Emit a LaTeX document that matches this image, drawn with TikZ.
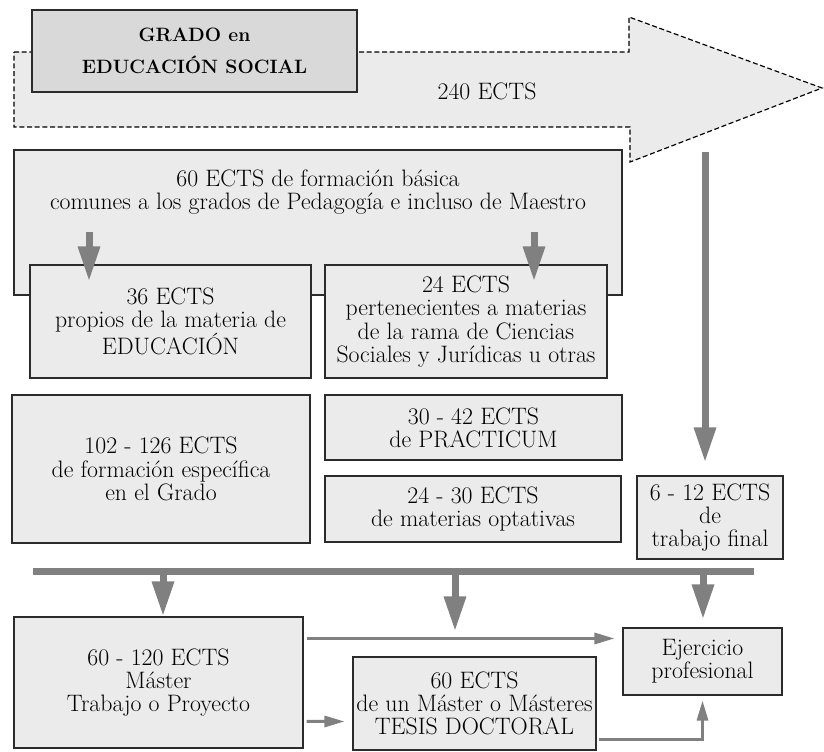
\documentclass[tikz,border=0pt]{standalone}
\usepackage{fontspec}
\setmainfont{Latin Modern Roman}
\usetikzlibrary{arrows.meta,calc}

\definecolor{cajafondo}{HTML}{EBEBEB}
\definecolor{gradofondo}{HTML}{D9D9D9}
\definecolor{flecha}{HTML}{808080}
\definecolor{borde}{HTML}{2B2B2B}

\tikzset{
  caja/.style={draw=borde, line width=0.9pt, fill=cajafondo, align=center, inner sep=0pt,
    font=\fontsize{20.3}{19.8}\selectfont},
  texto/.style={align=center, inner sep=0pt, font=\fontsize{20.3}{19.8}\selectfont},
  gruesa/.style={draw=flecha, line width=0.21cm, -{Triangle[width=0.62cm,length=1.05cm]}},
  fina/.style={draw=flecha, line width=0.09cm, -{Triangle[width=0.33cm,length=0.6cm]}},
}

\begin{document}
\begin{tikzpicture}[x=0.03cm, y=-0.03cm]
        \useasboundingbox (0,0) rectangle (824,751);

        % flecha grande de 240 ECTS
        \draw[fill=cajafondo, draw=black, line width=1pt, dash pattern=on 0.15cm off 0.08cm]
            (14,52) -- (629,52) -- (629,17) -- (822,88) -- (630,162) -- (630,127) -- (14,127) -- cycle;
        \node[texto] (total) at (487,91) {240 ECTS};
        \node[caja, fill=gradofondo, minimum width=9.75cm, minimum height=2.46cm,
            font=\fontsize{16.5}{27}\selectfont\bfseries] (grado) at (194.5,51) {GRADO en\\EDUCACIÓN SOCIAL};

        % formacion basica
        \node[caja, minimum width=18.24cm, minimum height=4.35cm] (basica) at (318,222.5) {};
        \node[texto] (basicatxt) at (318,192) {60 ECTS de formación básica\\comunes a los grados de Pedagogía e incluso de Maestro};
        \node[caja, minimum width=8.43cm, minimum height=3.39cm] (edu) at (170.5,321.5)
            {36 ECTS\\propios de la materia de\\EDUCACIÓN};
        \node[caja, minimum width=8.46cm, minimum height=3.39cm] (rama) at (466,321.5)
            {24 ECTS\\pertenecientes a materias\\de la rama de Ciencias\\Sociales y Jurídicas u otras};
        \coordinate (fIzq) at (89,232);
        \coordinate (fDer) at (534,232);
        \draw[gruesa] (fIzq) -- ($(fIzq |- edu.north)+(0,17)$);
        \draw[gruesa] (fDer) -- ($(fDer |- rama.north)+(0,17)$);

        % formacion especifica
        \node[caja, minimum width=8.94cm, minimum height=4.44cm] (espec) at (161,469)
            {102 - 126 ECTS\\de formación específica\\en el Grado};
        \node[caja, minimum width=8.91cm, minimum height=1.95cm] (practicum) at (473.5,427.5)
            {30 - 42 ECTS\\de PRACTICUM};
        \node[caja, minimum width=8.88cm, minimum height=1.98cm] (optativas) at (473,509)
            {24 - 30 ECTS\\de materias optativas};
        \node[caja, minimum width=4.38cm, minimum height=2.49cm] (trabajo) at (710,517.5)
            {6 - 12 ECTS\\de\\trabajo final};
        \coordinate (iniDer) at (705,152);
        \draw[gruesa] (iniDer) -- ($(trabajo.north -| iniDer)+(0,-13)$);

        % salidas
        \coordinate (barIzq) at (33,571);
        \coordinate (barDer) at (754,571);
        \draw[draw=flecha, line width=0.21cm] (barIzq) -- (barDer);
        \node[caja, minimum width=8.67cm, minimum height=3.93cm] (master) at (158.5,682.5)
            {60 - 120 ECTS\\Máster\\Trabajo o Proyecto};
        \node[caja, minimum width=7.29cm, minimum height=2.79cm] (doctoral) at (474.5,703.5)
            {60 ECTS\\de un Máster o Másteres\\TESIS DOCTORAL};
        \node[caja, minimum width=4.77cm, minimum height=2.01cm] (ejer) at (702.5,661.5)
            {Ejercicio\\profesional};
        \coordinate (b1) at (163,571);
        \coordinate (b2) at (455,571);
        \coordinate (b3) at (703,571);
        \draw[gruesa] (b1) -- (b1 |- master.north);
        \draw[gruesa] (b2) -- ($(b2 |- doctoral.north)+(0,-25)$);
        \draw[gruesa] (b3) -- ($(b3 |- ejer.north)+(0,-8)$);
        \draw[fina] ($(master.north east)+(3,22)$) -- ($(ejer.west |- master.north east)+(-8,22)$);
        \draw[fina] ($(master.north east)+(3,105)$) -- ($(doctoral.north west)+(-8,65)$);
        \draw[fina] ($(doctoral.north east)+(2,83)$) -| ($(ejer.south)+(0,5)$);
    \end{tikzpicture}
\end{document}
